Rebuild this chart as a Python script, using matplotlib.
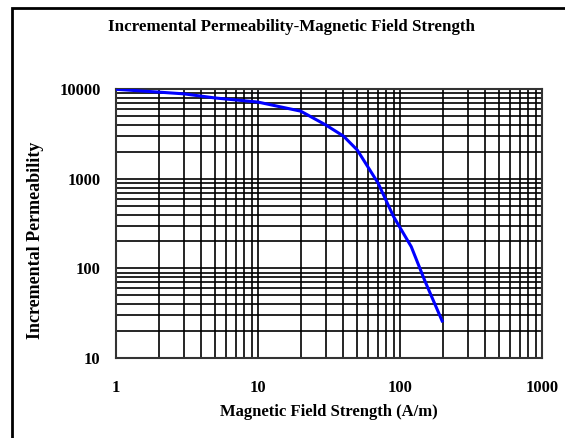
import matplotlib
matplotlib.use("Agg")
import matplotlib.pyplot as plt
from matplotlib.patches import Rectangle
from matplotlib.ticker import LogLocator, FixedLocator, NullFormatter

# Data
field_strength = [1, 2, 3, 5, 10, 20, 30, 40, 50, 70, 90, 120, 150, 200]
permeability = [10000, 9300, 8900, 8000, 7200, 5700, 4000, 3000, 2100,
                900, 380, 175, 72, 25]

x_ticks = [1, 10, 100, 1000]
x_tick_labels = ["1", "10", "100", "1000"]
y_ticks = [10, 100, 1000, 10000]
y_tick_labels = ["10", "100", "1000", "10000"]

plt.rcParams['font.family'] = ['Liberation Serif', 'DejaVu Serif']
plt.rcParams['font.weight'] = 'bold'

W, H = 565, 438
fig = plt.figure(figsize=(W / 100, H / 100), dpi=100)
ax = fig.add_axes([116 / W, 1 - 358 / H, 426 / W, 268.7 / H])

ax.set_xscale('log')
ax.set_yscale('log')
ax.set_xlim(1, 1000)
ax.set_ylim(10, 10000)

ax.xaxis.set_major_locator(FixedLocator(x_ticks))
ax.yaxis.set_major_locator(FixedLocator(y_ticks))
ax.xaxis.set_minor_locator(LogLocator(base=10, subs=range(2, 10)))
ax.yaxis.set_minor_locator(LogLocator(base=10, subs=range(2, 10)))
ax.xaxis.set_minor_formatter(NullFormatter())
ax.yaxis.set_minor_formatter(NullFormatter())
ax.set_xticklabels(x_tick_labels, fontsize=12, fontweight='bold')
ax.set_yticklabels(y_tick_labels, fontsize=12, fontweight='bold')
ax.tick_params(which='both', length=0)
ax.tick_params(axis='x', pad=16)
ax.tick_params(axis='y', pad=11)

ax.grid(True, which='both', color='black', linewidth=1.2)
ax.set_axisbelow(True)
for sp in ax.spines.values():
    sp.set_color('#333333')
    sp.set_linewidth(1.5)

ax.plot(field_strength, permeability, color='#0000ff', linewidth=2.2,
        solid_capstyle='butt', zorder=3)

fig.text(329 / W, 1 - 412 / H, "Magnetic Field Strength (A/m)",
         ha='center', va='center', fontsize=12, fontweight='bold')
fig.text(36 / W, 1 - 240 / H, "Incremental Permeability", rotation=90,
         ha='center', va='center', fontsize=13, fontweight='bold')
fig.text(292 / W, 1 - 27 / H,
         "Incremental Permeability-Magnetic Field Strength",
         ha='center', va='center', fontsize=12.2, fontweight='bold')

# outer frame, cut off at the right and bottom
fig.patches.append(Rectangle((12 / W, -0.2), 1.2, 1.2 - 8 / H,
                             transform=fig.transFigure, fill=False,
                             edgecolor='black', linewidth=2))

fig.savefig("out.png", dpi=100)
